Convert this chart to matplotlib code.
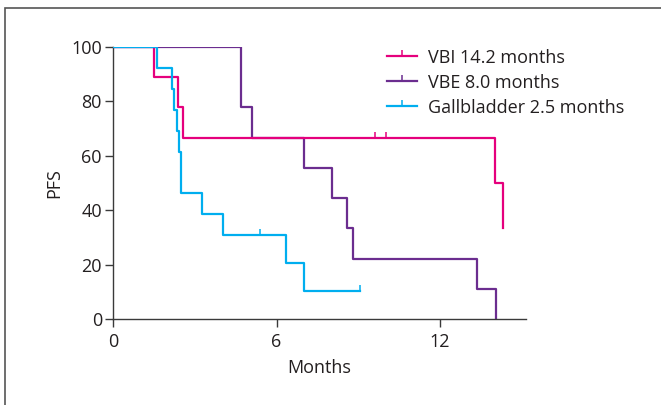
import matplotlib
matplotlib.use("Agg")
import matplotlib.pyplot as plt
from matplotlib.lines import Line2D
from matplotlib.patches import Rectangle

# PFS curves (months, percent)
vbi_months = [0, 1.5, 2.4, 2.58, 14.0, 14.3]
vbi_pfs = [100, 88.9, 77.8, 66.7, 50.0, 33.3]
vbi_censor_months = [9.6, 10.0]
vbi_censor_pfs = [66.7, 66.7]

vbe_months = [0, 4.7, 5.1, 7.0, 8.05, 8.6, 8.8, 13.35, 14.05]
vbe_pfs = [100, 77.8, 66.7, 55.6, 44.4, 33.3, 22.2, 11.1, 0]

gb_months = [0, 1.63, 2.15, 2.25, 2.34, 2.42, 2.48, 3.25, 4.05, 6.35, 7.0, 9.05]
gb_pfs = [100, 92.3, 84.6, 76.9, 69.2, 61.5, 46.2, 38.5, 30.8, 20.5, 10.3, 10.3]
gb_censor_months = [5.39, 9.05]
gb_censor_pfs = [30.8, 10.3]

labels = ["VBI 14.2 months", "VBE 8.0 months", "Gallbladder 2.5 months"]
colors = ["#E5007D", "#6B2D8F", "#00AEEF"]
xticks = [0, 6, 12]
yticks = [0, 20, 40, 60, 80, 100]

plt.rcParams["font.family"] = ["Open Sans", "DejaVu Sans"]
text_color = "#231F20"

fig = plt.figure(figsize=(6.61, 4.05), dpi=100)
ax = fig.add_axes([113 / 661, 1 - 319 / 405, (526 - 113) / 661, (319 - 47) / 405])

lw = 1.6
ax.plot(vbe_months, vbe_pfs, drawstyle="steps-post", color=colors[1], lw=lw, zorder=2)
ax.plot(vbi_months, vbi_pfs, drawstyle="steps-post", color=colors[0], lw=lw, zorder=3)
ax.plot(vbi_censor_months, vbi_censor_pfs, ls="none", marker=2, ms=4.5, mew=1.1,
        color=colors[0], zorder=3)
ax.plot(gb_months, gb_pfs, drawstyle="steps-post", color=colors[2], lw=lw, zorder=4)
ax.plot(gb_censor_months, gb_censor_pfs, ls="none", marker=2, ms=4.5, mew=1.1,
        color=colors[2], zorder=4)

ax.set_xlim(0, 15.15)
ax.set_ylim(0, 100)
ax.set_xticks(xticks)
ax.set_yticks(yticks)
for side in ["top", "right"]:
    ax.spines[side].set_visible(False)
for side in ["left", "bottom"]:
    ax.spines[side].set_color("#3a3a3a")
    ax.spines[side].set_linewidth(1.0)
ax.tick_params(length=6, width=1.0, color="#3a3a3a", labelsize=13,
               labelcolor=text_color)
ax.tick_params(axis="x", pad=4)
ax.tick_params(axis="y", pad=2)
ax.set_xlabel("Months", fontsize=13, color=text_color, labelpad=6)
ax.set_ylabel("PFS", fontsize=13, color=text_color, labelpad=6)

handles = [Line2D([], [], color=c, lw=lw, marker=2, ms=4.5, mew=1.1) for c in colors]
ax.legend(handles, labels, loc="upper left", bbox_to_anchor=(0.645, 1.02),
          frameon=False, fontsize=13, handlelength=1.7, handletextpad=0.6,
          labelspacing=0.38, borderaxespad=0, labelcolor=text_color)

# partial frame around the panel
fig.patches.append(Rectangle((4.5 / 661, -0.1), 1.2, 1.1 - 8 / 405,
                             transform=fig.transFigure, fill=False,
                             edgecolor="#555555", lw=1.2))

plt.savefig("out.png", dpi=100)
